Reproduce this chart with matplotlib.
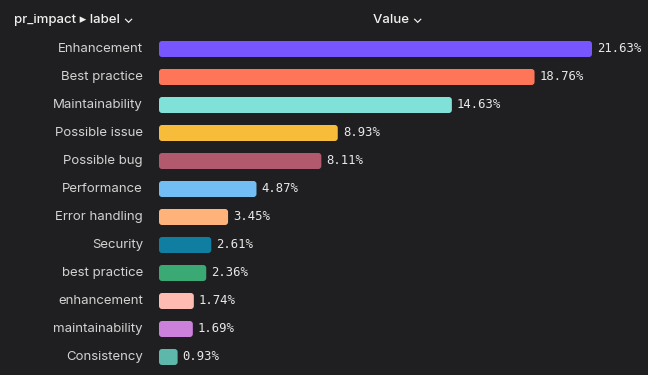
import matplotlib
matplotlib.use("Agg")
import matplotlib.pyplot as plt
from matplotlib.patches import FancyBboxPatch

labels = ["Enhancement", "Best practice", "Maintainability", "Possible issue",
          "Possible bug", "Performance", "Error handling", "Security",
          "best practice", "enhancement", "maintainability", "Consistency"]
values = [21.63, 18.76, 14.63, 8.93, 8.11, 4.87, 3.45, 2.61, 2.36, 1.74, 1.69, 0.93]
colors = ["#7856ff", "#ff7557", "#80e1d9", "#f8bc3b", "#b2596e", "#72bef4",
          "#ffb27a", "#0f7ea0", "#3ba974", "#febbb2", "#cb80dc", "#5eb7ab"]

bg = "#1f1f21"
W, H = 648, 375
fig = plt.figure(figsize=(W / 100, H / 100), dpi=100, facecolor=bg)

# axes: x from 159px to 648px, rows 28px tall starting at y=35
px_per_unit = (592 - 159) / 21.63
ax = fig.add_axes([159 / W, (H - 371) / H, (W - 159) / W, 336 / H])
ax.set_facecolor(bg)
ax.set_xlim(0, (W - 159) / px_per_unit)
ax.set_ylim(len(labels) - 0.5, -0.5)
ax.axis("off")

bh = 16 / 28
r = 3 / px_per_unit
aspect = (1 / 28) / (1 / px_per_unit)
for i, (lab, v, c) in enumerate(zip(labels, values, colors)):
    p = FancyBboxPatch((0, i - bh / 2), v, bh,
                       boxstyle=f"round,pad=0,rounding_size={r}",
                       mutation_aspect=aspect, fc=c, ec="none")
    ax.add_patch(p)
    ax.text(v + 5 / px_per_unit, i, f"{v:.2f}%", va="center", ha="left",
            color="#e8e8e8", fontsize=8.8, family="DejaVu Sans Mono")
    ax.text(-16 / px_per_unit, i, lab, va="center", ha="right",
            color="#d2d2d2", fontsize=9.5, family="Inter", clip_on=False)

fig.text(14 / W, 1 - 20 / H, "pr_impact \u25b8 label \u2304", color="#f0f0f0",
         fontsize=9.5, family=["Inter", "DejaVu Sans"], weight="medium",
         va="center", ha="left")
fig.text(398 / W, 1 - 20 / H, "Value \u2304", color="#f0f0f0",
         fontsize=9.5, family=["Inter", "DejaVu Sans"], weight="medium",
         va="center", ha="center")

fig.savefig("out.png", dpi=100, facecolor=bg)
